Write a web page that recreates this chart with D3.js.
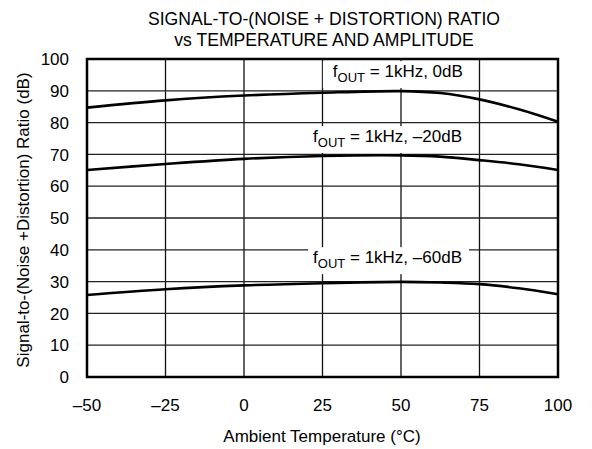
<!DOCTYPE html>
<html>
<head>
<meta charset="utf-8">
<script src="https://cdn.jsdelivr.net/npm/d3@7"></script>
<style>
  body { margin: 0; background: #fff; }
  text { font-family: "Liberation Sans", Arial, sans-serif; fill: #000; }
</style>
</head>
<body>
<div id="chart"></div>
<script>

var temps = [-50, -25, 0, 25, 50, 62.5, 75, 87.5, 100];
var snr0dB = [84.7, 87.0, 88.5, 89.4, 89.9, 89.3, 87.3, 84.2, 80.3];
var snr20dB = [65.1, 67.0, 68.6, 69.5, 69.7, 69.3, 68.2, 66.9, 65.1];
var snr60dB = [25.8, 27.6, 28.8, 29.5, 29.9, 29.7, 29.2, 27.9, 26.0];
var seriesNames = ["1kHz, 0dB", "1kHz, \u201320dB", "1kHz, \u201360dB"];
var xTicks = [-50, -25, 0, 25, 50, 75, 100];
var yTicks = [0, 10, 20, 30, 40, 50, 60, 70, 80, 90, 100];

var width = 592, height = 449;
var margin = { top: 59, right: 34, bottom: 72, left: 87 };

var svg = d3.select("#chart")
  .append("svg")
  .attr("width", width)
  .attr("height", height);

var x = d3.scaleLinear().domain([-50, 100]).range([margin.left, width - margin.right]);
var y = d3.scaleLinear().domain([0, 100]).range([height - margin.bottom, margin.top]);

// title
svg.append("text")
  .attr("x", 324).attr("y", 25)
  .attr("text-anchor", "middle")
  .style("font-size", "17.6px")
  .text("SIGNAL-TO-(NOISE + DISTORTION) RATIO");
svg.append("text")
  .attr("x", 324).attr("y", 46)
  .attr("text-anchor", "middle")
  .style("font-size", "17.6px")
  .text("vs TEMPERATURE AND AMPLITUDE");

// grid
var grid = svg.append("g");
grid.selectAll(".gx")
  .data(xTicks.slice(1, -1))
  .enter().append("line")
  .attr("x1", d => x(d)).attr("x2", d => x(d))
  .attr("y1", y(0)).attr("y2", y(100))
  .attr("stroke", "#111").attr("stroke-width", 1.3);
grid.selectAll(".gy")
  .data(yTicks.slice(1, -1))
  .enter().append("line")
  .attr("y1", d => y(d)).attr("y2", d => y(d))
  .attr("x1", x(-50)).attr("x2", x(100))
  .attr("stroke", "#222").attr("stroke-width", 1.3);

// curves
var series = [snr0dB, snr20dB, snr60dB];
var line = d3.line()
  .x((d, i) => x(temps[i]))
  .y(d => y(d))
  .curve(d3.curveCatmullRom.alpha(0.5));

svg.selectAll(".curve")
  .data(series)
  .enter().append("path")
  .attr("d", line)
  .attr("fill", "none")
  .attr("stroke", "#000")
  .attr("stroke-width", 2.6);

// labels with white boxes (temperature / dB of the text start)
var labelTemp = [28.3, 22, 22];
var labelDb = [94.3, 73.9, 35.8];
var padL = [10, 5, 5], padR = [9, 10, 7];

seriesNames.forEach(function (name, i) {
  var g = svg.append("g");
  var rect = g.append("rect").attr("fill", "#fff");
  var t = g.append("text")
    .attr("x", x(labelTemp[i]))
    .attr("y", y(labelDb[i]))
    .style("font-size", "17px");
  t.append("tspan").text("f");
  t.append("tspan").attr("dy", 5).style("font-size", "13px").text("OUT");
  t.append("tspan").attr("dy", -5).text(" = " + name);
  var bb = t.node().getBBox();
  rect.attr("x", bb.x - padL[i]).attr("y", bb.y - 1)
    .attr("width", bb.width + padL[i] + padR[i]).attr("height", bb.height + 4);
});

// frame
svg.append("rect")
  .attr("x", x(-50)).attr("y", y(100))
  .attr("width", x(100) - x(-50)).attr("height", y(0) - y(100))
  .attr("fill", "none").attr("stroke", "#000").attr("stroke-width", 2.5);

// tick labels
svg.selectAll(".xt")
  .data(xTicks)
  .enter().append("text")
  .attr("x", d => x(d)).attr("y", 411)
  .attr("text-anchor", "middle")
  .style("font-size", "17px")
  .text(d => d < 0 ? "\u2013" + Math.abs(d) : d);

svg.selectAll(".yt")
  .data(yTicks)
  .enter().append("text")
  .attr("x", 69).attr("y", d => y(d))
  .attr("dy", "0.36em")
  .attr("text-anchor", "end")
  .style("font-size", "17px")
  .text(d => d);

svg.append("text")
  .attr("x", 322).attr("y", 442)
  .attr("text-anchor", "middle")
  .style("font-size", "17px")
  .text("Ambient Temperature (\u00B0C)");

svg.append("text")
  .attr("transform", "translate(29,220) rotate(-90)")
  .attr("text-anchor", "middle")
  .style("font-size", "17px")
  .text("Signal-to-(Noise +Distortion) Ratio (dB)");

</script>
</body>
</html>
